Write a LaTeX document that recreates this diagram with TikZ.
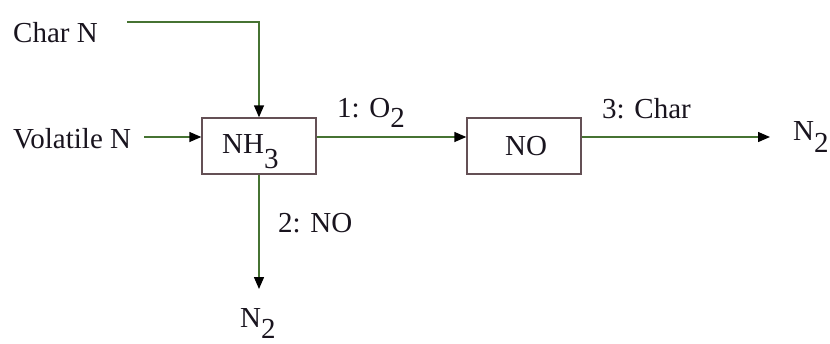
\documentclass[tikz,border=0pt]{standalone}
\usepackage{fontspec}
\setmainfont{Liberation Serif}
\usetikzlibrary{arrows.meta}
\definecolor{lnc}{RGB}{70,115,50}
\definecolor{bxc}{RGB}{100,80,85}
\definecolor{txc}{RGB}{25,20,30}
\newcommand{\dn}[2]{\raisebox{-#1pt}{#2}}
\begin{document}
\begin{tikzpicture}[x=1pt,y=1pt,
  lbl/.style={anchor=base west,inner sep=0pt,text=txc,font=\fontsize{29}{32}\selectfont},
  box/.style={draw=bxc,line width=1.4pt,minimum width=114pt,minimum height=56pt,inner sep=0pt},
  arr/.style={draw=lnc,line width=1.4pt,-{Triangle[length=12pt,width=10pt,color=black]}}]
\useasboundingbox (0,0) rectangle (830,-343);
% text nodes
\node[lbl] (charN) at (13,-42) {Char N};
\node[lbl] (volN) at (13,-148) {Volatile N};
\node[box] (nh3) at (259,-146) {};
\node[lbl] (nh3t) at (222,-153) {NH\dn{15}{3}};
\node[box] (no) at (524,-146) {};
\node[lbl,anchor=base] (not) at (526,-155) {NO};
\node[lbl] (l1) at (337,-117) {1: O\dn{10}{2}};
\node[lbl] (l3) at (602,-118) {3: Char};
\node[lbl] (l2) at (278,-232) {2: NO};
\node[lbl] (n2r) at (793,-140) {N\dn{12}{2}};
\node[lbl] (n2b) at (240,-327) {N\dn{11}{2}};
% connector ends
\coordinate (cs) at (127,-22);
\coordinate (vs) at (144,-137);
\coordinate (ne) at (770,-137);
\coordinate (be) at (259,-289);
% connectors
\draw[arr] (cs) -| (nh3.north);
\draw[arr] (vs) -- (vs -| nh3.west);
\draw[arr] (nh3.east |- vs) -- (no.west |- vs);
\draw[arr] (no.east |- vs) -- (ne);
\draw[arr] (nh3.south) -- (be);
\end{tikzpicture}
\end{document}
